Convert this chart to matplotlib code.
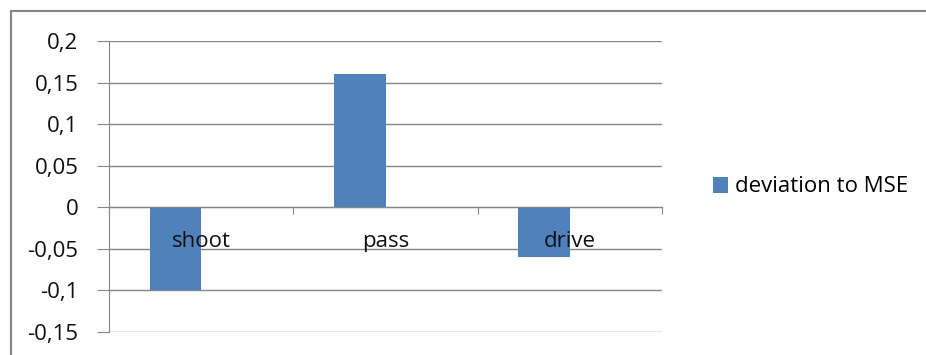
import matplotlib
matplotlib.use("Agg")
import matplotlib.pyplot as plt
from matplotlib.patches import Rectangle
from matplotlib.ticker import FixedLocator, FuncFormatter, NullFormatter
from matplotlib.transforms import offset_copy

categories = ["shoot", "pass", "drive"]
deviation = [-0.10, 0.16, -0.06]
series_name = "deviation to MSE"
y_ticks = [-0.15, -0.10, -0.05, 0.0, 0.05, 0.10, 0.15, 0.20]

W, H = 926, 355
FS = 16
plt.rcParams["font.family"] = ["Open Sans", "DejaVu Sans"]
fig = plt.figure(figsize=(W / 100, H / 100), dpi=100)

grey = "#868686"
bar_color = "#4F81BD"
text_color = "#111111"

# outer chart frame (top and left edges visible)
fig.patches.append(Rectangle((10.5 / W, -0.2), 1.2, (H - 10.5) / H + 0.2,
                             transform=fig.transFigure, fill=False,
                             edgecolor=grey, linewidth=1.5))

ax = fig.add_axes([109 / W, 23 / H, (662 - 109) / W, (332 - 41) / H])

x = list(range(len(categories)))
bars = ax.bar(x, deviation, width=-0.28, align="edge", color=bar_color,
              label=series_name, zorder=3)

ax.set_xlim(-0.5, len(categories) - 0.5)
ax.set_ylim(min(y_ticks), max(y_ticks))
ax.set_yticks(y_ticks)
ax.yaxis.set_major_formatter(FuncFormatter(
    lambda v, _: ("%g" % round(v, 2)).replace(".", ",")))
ax.grid(axis="y", color=grey, linewidth=1, zorder=0)

for s in ["top", "right"]:
    ax.spines[s].set_visible(False)
ax.spines["left"].set_color(grey)
ax.spines["bottom"].set_color(grey)
ax.spines["bottom"].set_position(("data", 0))
ax.spines["bottom"].set_zorder(4)

ax.tick_params(axis="y", direction="out", length=9, color=grey,
               labelsize=FS, pad=13, labelcolor=text_color)
ax.xaxis.set_major_locator(FixedLocator([i - 0.5 for i in range(len(categories) + 1)]))
ax.xaxis.set_major_formatter(NullFormatter())
ax.tick_params(axis="x", which="major", direction="out", length=5, color=grey)

# category names sit just under the zero line, on top of the bars
label_tf = offset_copy(ax.transData, fig=fig, x=0, y=-34, units="dots")
for xi, name in zip(x, categories):
    ax.text(xi, 0, name, transform=label_tf, ha="center", va="center",
            fontsize=FS, color=text_color, zorder=6)

fig.legend(handles=[bars], labels=[series_name], loc="center left",
           bbox_to_anchor=(704 / W, 1 - 187 / H), frameon=False,
           fontsize=FS, handlelength=0.7, handleheight=0.7,
           handletextpad=0.3, borderaxespad=0)

fig.savefig("out.png", dpi=100)
